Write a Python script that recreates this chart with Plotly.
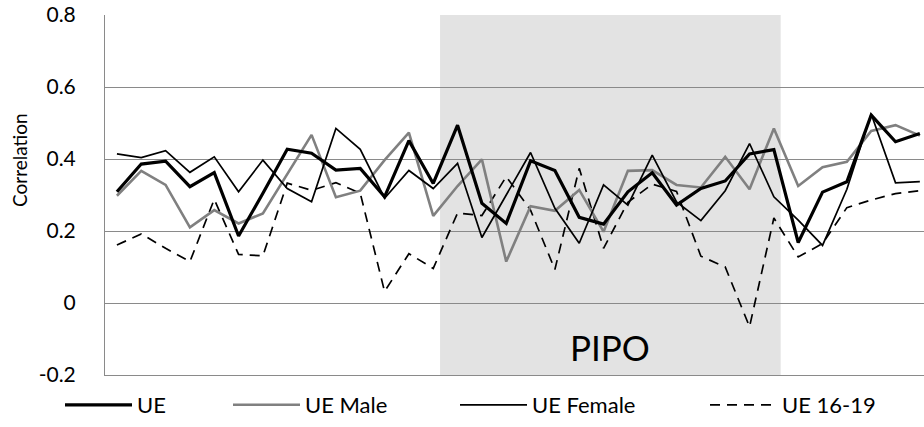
import plotly.graph_objects as go

periods = list(range(34))

ue = [0.309, 0.386, 0.394, 0.323, 0.362, 0.186, 0.305, 0.427, 0.416, 0.369,
      0.374, 0.295, 0.451, 0.332, 0.494, 0.277, 0.221, 0.395, 0.368, 0.238,
      0.219, 0.309, 0.362, 0.272, 0.318, 0.339, 0.414, 0.426, 0.168, 0.308,
      0.337, 0.522, 0.448, 0.471]

ue_male = [0.298, 0.367, 0.328, 0.210, 0.258, 0.221, 0.249, 0.360, 0.467, 0.294,
           0.312, 0.397, 0.473, 0.242, 0.325, 0.399, 0.115, 0.269, 0.256, 0.314,
           0.198, 0.367, 0.369, 0.328, 0.321, 0.406, 0.316, 0.485, 0.325, 0.377,
           0.392, 0.478, 0.494, 0.465]

ue_female = [0.414, 0.404, 0.423, 0.363, 0.406, 0.309, 0.397, 0.318, 0.281, 0.485,
             0.427, 0.291, 0.368, 0.318, 0.388, 0.182, 0.300, 0.418, 0.263, 0.166,
             0.328, 0.272, 0.411, 0.281, 0.229, 0.312, 0.443, 0.295, 0.230, 0.160,
             0.316, 0.525, 0.334, 0.337]

ue_16_19 = [0.161, 0.192, 0.152, 0.115, 0.288, 0.135, 0.131, 0.333, 0.313, 0.334,
            0.305, 0.032, 0.137, 0.096, 0.250, 0.243, 0.351, 0.258, 0.093, 0.374,
            0.152, 0.280, 0.330, 0.310, 0.130, 0.100, -0.066, 0.236, 0.128, 0.165,
            0.265, 0.286, 0.304, 0.312]

series_names = ["UE", "UE Male", "UE Female", "UE 16-19"]
y_ticks = [-0.2, 0, 0.2, 0.4, 0.6, 0.8]
y_ticktext = ["-0.2", "0", "0.2", "0.4", "0.6", "0.8"]
y_title = "Correlation"
pipo_start, pipo_end = 13.28, 27.28
pipo_label = "PIPO"

FONT = "Lato"
L, R, T, B = 105, 0, 15, 52
W, H = 924, 427
pw = W - L - R
ph = H - T - B


def px_to_paper_x(px):
    return (px - L) / pw


def px_to_paper_y(py):
    return (H - B - py) / ph


styles = [
    dict(color="#000000", width=3.2, dash="solid"),
    dict(color="#808080", width=2.6, dash="solid"),
    dict(color="#000000", width=1.7, dash="solid"),
    dict(color="#000000", width=1.7, dash="10px,7px"),
]
legend_px = [60, 228, 455, 705]
legend_ids = ["legend", "legend2", "legend3", "legend4"]

fig = go.Figure()
traces = []
for vals, name, st, lid in zip([ue, ue_male, ue_female, ue_16_19], series_names, styles, legend_ids):
    traces.append(go.Scatter(x=periods, y=vals, mode="lines", name=name,
                             line=dict(color=st["color"], width=st["width"], dash=st["dash"]),
                             legend=lid))
# draw order: dashed at the back, thick UE on top
for i in (3, 1, 2, 0):
    fig.add_trace(traces[i])

fig.add_shape(type="rect", xref="x", yref="paper", x0=pipo_start, x1=pipo_end, y0=0, y1=1,
              fillcolor="#e3e3e3", line=dict(width=0), layer="below")
fig.add_annotation(x=(pipo_start + pipo_end) / 2, y=-0.122, xref="x", yref="y", text=pipo_label,
                   xanchor="center", yanchor="middle",
                   showarrow=False, font=dict(family=FONT, size=35, color="#000000"))
fig.add_annotation(x=px_to_paper_x(19), y=px_to_paper_y(160), xref="paper", yref="paper",
                   xanchor="center", yanchor="middle",
                   text=y_title, textangle=-90, showarrow=False,
                   font=dict(family=FONT, size=19, color="#000000"))

legend_common = dict(orientation="h", bgcolor="rgba(0,0,0,0)", borderwidth=0,
                     font=dict(family=FONT, size=22, color="#000000"),
                     itemwidth=67, yanchor="middle", xanchor="left", tracegroupgap=0)
layout_legends = {}
for lid, px in zip(legend_ids, legend_px):
    layout_legends[lid] = dict(legend_common, x=px_to_paper_x(px), y=px_to_paper_y(405))

fig.update_layout(
    width=W, height=H,
    margin=dict(l=L, r=R, t=T, b=B, pad=0),
    plot_bgcolor="#ffffff", paper_bgcolor="#ffffff",
    showlegend=True,
    font=dict(family=FONT, color="#000000"),
    xaxis=dict(range=[-0.49, 33.17], showgrid=False, zeroline=False, showticklabels=False,
               ticks="", showline=True, linecolor="#8a8a8a", linewidth=1),
    yaxis=dict(range=[-0.2, 0.8], tickvals=y_ticks, ticktext=y_ticktext,
               showgrid=True, gridcolor="#8a8a8a", gridwidth=1, zeroline=False,
               showline=True, linecolor="#8a8a8a", linewidth=1, ticks="",
               ticklabelstandoff=24, tickfont=dict(family=FONT, size=21, color="#000000")),
    **layout_legends,
)

fig.write_html("out.html")
